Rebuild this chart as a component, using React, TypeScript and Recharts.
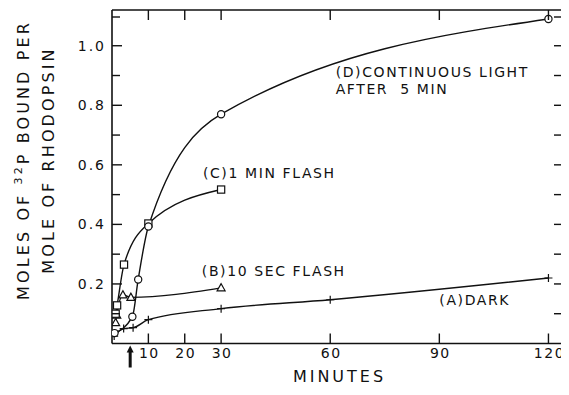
import { Line, LineChart, ReferenceDot, XAxis, YAxis } from 'recharts';

// minutes after start, moles 32P bound per mole rhodopsin
const darkMin = [0.6, 3.2, 5.8, 10, 30, 60, 120];
const darkVal = [0.025, 0.05, 0.053, 0.08, 0.117, 0.147, 0.22];

const flash10sMin = [1, 1.3, 3, 5.2, 30];
const flash10sVal = [0.07, 0.095, 0.163, 0.155, 0.187];

const flash1mMin = [1, 1.4, 3.3, 10, 30];
const flash1mVal = [0.1, 0.128, 0.265, 0.403, 0.517];

const contMin = [0.7, 5.6, 7.2, 10, 30, 120];
const contVal = [0.035, 0.09, 0.215, 0.393, 0.77, 1.09];

const xTicks = [10, 20, 30, 60, 90, 120];
const yTicks = [0.1, 0.2, 0.3, 0.4, 0.5, 0.6, 0.7, 0.8, 0.9, 1.0, 1.1];
const yLabelled = [0.2, 0.4, 0.6, 0.8, 1.0];
const lightOnMin = 5;

const notes = [
  { t: 61.5, v: 0.894, lines: ['(D)CONTINUOUS LIGHT', 'AFTER  5 MIN'] },
  { t: 25, v: 0.555, lines: ['(C)1 MIN FLASH'] },
  { t: 24.7, v: 0.226, lines: ['(B)10 SEC FLASH'] },
  { t: 90, v: 0.129, lines: ['(A)DARK'] },
];

const toRows = (ts: number[], vs: number[]) => ts.map((t, i) => ({ t, v: vs[i] }));

const INK = '#111';
const FONT = '"DejaVu Sans", sans-serif';

function Circle({ cx, cy }: any) {
  return <circle cx={cx} cy={cy} r={3.6} fill="#fff" stroke={INK} strokeWidth={1.2} />;
}
function Square({ cx, cy }: any) {
  return <rect x={cx - 3.6} y={cy - 3.6} width={7.2} height={7.2} fill="#fff" stroke={INK} strokeWidth={1.2} />;
}
function Tri({ cx, cy }: any) {
  return (
    <polygon
      points={`${cx},${cy - 4.2} ${cx - 4},${cy + 3} ${cx + 4},${cy + 3}`}
      fill="#fff"
      stroke={INK}
      strokeWidth={1.2}
    />
  );
}
function Cross({ cx, cy }: any) {
  return (
    <g stroke={INK} strokeWidth={1.2}>
      <line x1={cx - 4} y1={cy} x2={cx + 4} y2={cy} />
      <line x1={cx} y1={cy - 4} x2={cx} y2={cy + 4} />
    </g>
  );
}

function LeftTick({ x, y, payload }: any) {
  const labelled = yLabelled.some((v) => Math.abs(v - payload.value) < 1e-6);
  return (
    <g>
      <line x1={x} y1={y} x2={x + (labelled ? 10 : 8)} y2={y} stroke={INK} strokeWidth={1.4} />
      {labelled && (
        <text x={x - 6} y={y + 5} textAnchor="end" fontSize={14} letterSpacing={2} fill={INK} fontFamily={FONT}>
          {payload.value.toFixed(1)}
        </text>
      )}
    </g>
  );
}
function RightTick({ x, y }: any) {
  return <line x1={x} y1={y} x2={x - 9} y2={y} stroke={INK} strokeWidth={1.4} />;
}
function BottomTick({ x, y, payload }: any) {
  return (
    <g>
      <line x1={x} y1={y} x2={x} y2={y - 10} stroke={INK} strokeWidth={1.4} />
      <text x={x + 1} y={y + 14} textAnchor="middle" fontSize={14} letterSpacing={1.5} fill={INK} fontFamily={FONT}>
        {payload.value}
      </text>
    </g>
  );
}
function TopTick({ x, y }: any) {
  return <line x1={x} y1={y} x2={x} y2={y + 10} stroke={INK} strokeWidth={1.4} />;
}

function YTitle({ viewBox }: any) {
  const cy = viewBox.y + 150;
  return (
    <g fill={INK} fontFamily={FONT} fontSize={16} letterSpacing={3.1} textAnchor="middle">
      <text transform={`translate(21, ${cy}) rotate(-90)`}>
        MOLES OF <tspan fontSize={11} dy={-7}>32</tspan>
        <tspan dy={7}>P BOUND PER</tspan>
      </text>
      <text transform={`translate(46, ${cy}) rotate(-90)`}>MOLE OF RHODOPSIN</text>
    </g>
  );
}
function XTitle({ viewBox }: any) {
  return (
    <text
      x={viewBox.x + viewBox.width / 2 + 2}
      y={viewBox.y + 38}
      textAnchor="middle"
      fontSize={16}
      letterSpacing={3}
      fill={INK}
      fontFamily={FONT}
    >
      MINUTES
    </text>
  );
}

function Arrow({ cx, cy }: any) {
  return (
    <g fill={INK} stroke="none">
      <polygon points={`${cx},${cy + 2} ${cx - 3.5},${cy + 9} ${cx + 3.5},${cy + 9}`} />
      <rect x={cx - 1.5} y={cy + 8} width={3} height={16} />
    </g>
  );
}

function Note({ cx, cy, lines }: any) {
  return (
    <g fill={INK} fontFamily={FONT} fontSize={14} letterSpacing={1.6}>
      {lines.map((s: string, i: number) => (
        <text key={s} x={cx} y={cy + i * 17} style={{ whiteSpace: 'pre' }}>
          {s}
        </text>
      ))}
    </g>
  );
}

export default function App() {
  const series = [
    { rows: toRows(darkMin, darkVal), dot: <Cross /> },
    { rows: toRows(flash10sMin, flash10sVal), dot: <Tri /> },
    { rows: toRows(flash1mMin, flash1mVal), dot: <Square /> },
    { rows: toRows(contMin, contVal), dot: <Circle /> },
  ];
  return (
    <LineChart width={561} height={387} margin={{ top: 1, right: 5, bottom: 0, left: 0 }}>
      <XAxis
        dataKey="t"
        type="number"
        domain={[0, 124]}
        ticks={xTicks}
        allowDataOverflow
        height={51.5}
        tickSize={0}
        tickMargin={0}
        tick={<BottomTick />}
        axisLine={{ stroke: INK, strokeWidth: 1.6 }}
        tickLine={false}
        label={<XTitle />}
      />
      <XAxis
        xAxisId="top"
        orientation="top"
        dataKey="t"
        type="number"
        domain={[0, 124]}
        ticks={xTicks}
        allowDataOverflow
        height={1}
        tickSize={0}
        tickMargin={0}
        tick={<TopTick />}
        axisLine={{ stroke: INK, strokeWidth: 1.6 }}
        tickLine={false}
      />
      <YAxis
        type="number"
        domain={[0, 1.12]}
        ticks={yTicks}
        allowDataOverflow
        width={104}
        tickSize={0}
        tickMargin={0}
        tick={<LeftTick />}
        axisLine={{ stroke: INK, strokeWidth: 1.6 }}
        tickLine={false}
        label={<YTitle />}
      />
      <YAxis
        yAxisId="r"
        orientation="right"
        type="number"
        domain={[0, 1.12]}
        ticks={yTicks}
        allowDataOverflow
        width={1}
        tickSize={0}
        tickMargin={0}
        tick={<RightTick />}
        axisLine={{ stroke: INK, strokeWidth: 1.6 }}
        tickLine={false}
      />
      {series.map((s, i) => (
        <Line
          key={i}
          data={s.rows}
          dataKey="v"
          type="monotone"
          stroke={INK}
          strokeWidth={1.4}
          dot={s.dot}
          activeDot={false}
          isAnimationActive={false}
        />
      ))}
      <ReferenceDot x={lightOnMin} y={0} ifOverflow="visible" shape={(p: any) => <Arrow {...p} />} />
      {notes.map((n) => (
        <ReferenceDot
          key={n.lines[0]}
          x={n.t}
          y={n.v}
          ifOverflow="visible"
          shape={(p: any) => <Note {...p} lines={n.lines} />}
        />
      ))}
    </LineChart>
  );
}
